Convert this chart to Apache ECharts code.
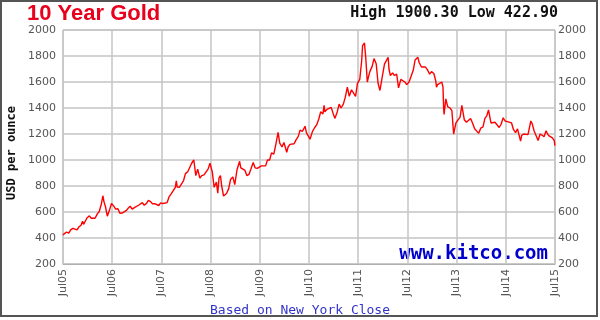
<!DOCTYPE html>
<html>
<head>
<meta charset="utf-8">
<script src="https://cdn.jsdelivr.net/npm/echarts@6/dist/echarts.min.js"></script>
<style>
  html, body { margin: 0; padding: 0; background: #fff; }
  #main { width: 600px; height: 320px; }
</style>
</head>
<body>
<div id="main"></div>
<script>
// 10 year gold (USD per ounce)
var dates = [
  '2005-07-20','2005-08-01','2005-08-15','2005-09-01','2005-09-15','2005-10-01','2005-10-15','2005-11-01','2005-11-15','2005-12-01','2005-12-12','2005-12-20',
  '2006-01-01','2006-01-15','2006-02-01','2006-02-15','2006-03-01','2006-03-15','2006-04-01','2006-04-15','2006-05-01','2006-05-12','2006-05-20','2006-06-01','2006-06-14','2006-06-20',
  '2006-07-01','2006-07-15','2006-08-01','2006-08-15','2006-09-01','2006-09-15','2006-10-01','2006-10-15','2006-11-01','2006-11-15','2006-12-01','2006-12-15',
  '2007-01-01','2007-01-15','2007-02-01','2007-02-15','2007-03-01','2007-03-15','2007-04-01','2007-04-15','2007-05-01','2007-05-15','2007-06-01','2007-06-15',
  '2007-07-01','2007-07-15','2007-08-01','2007-08-15','2007-09-01','2007-09-15','2007-10-01','2007-10-15','2007-11-01','2007-11-08','2007-11-15','2007-12-01','2007-12-15',
  '2008-01-01','2008-01-15','2008-02-01','2008-02-15','2008-03-01','2008-03-17','2008-04-01','2008-04-15','2008-05-01','2008-05-15','2008-06-01','2008-06-15',
  '2008-07-01','2008-07-15','2008-08-01','2008-08-15','2008-09-01','2008-09-11','2008-09-20','2008-10-01','2008-10-10','2008-10-24','2008-11-01','2008-11-15','2008-12-01','2008-12-15',
  '2009-01-01','2009-01-15','2009-02-01','2009-02-20','2009-03-01','2009-03-15','2009-04-01','2009-04-15','2009-05-01','2009-05-15','2009-06-01','2009-06-15',
  '2009-07-01','2009-07-15','2009-08-01','2009-08-15','2009-09-01','2009-09-15','2009-10-01','2009-10-15','2009-11-01','2009-11-15','2009-12-03','2009-12-15',
  '2010-01-01','2010-01-15','2010-02-05','2010-02-15','2010-03-01','2010-03-15','2010-04-01','2010-04-15','2010-05-01','2010-05-15','2010-06-01','2010-06-21',
  '2010-07-01','2010-07-15','2010-07-28','2010-08-15','2010-09-01','2010-09-15','2010-10-01','2010-10-15','2010-11-01','2010-11-09','2010-11-15','2010-12-01','2010-12-15',
  '2011-01-01','2011-01-15','2011-01-28','2011-02-15','2011-03-01','2011-03-15','2011-04-01','2011-04-15','2011-05-01','2011-05-15','2011-06-01','2011-06-15',
  '2011-07-01','2011-07-15','2011-08-01','2011-08-15','2011-08-22','2011-09-05','2011-09-15','2011-09-26','2011-10-05','2011-10-15','2011-11-01','2011-11-15','2011-12-01','2011-12-15','2011-12-29',
  '2012-01-15','2012-02-01','2012-02-28','2012-03-05','2012-03-15','2012-04-01','2012-04-15','2012-05-01','2012-05-15','2012-06-01','2012-06-15',
  '2012-07-01','2012-07-15','2012-08-01','2012-08-15','2012-09-01','2012-09-15','2012-10-05','2012-10-15','2012-11-01','2012-11-15','2012-12-01','2012-12-15',
  '2013-01-01','2013-01-15','2013-02-01','2013-02-15','2013-02-21','2013-03-01','2013-03-15','2013-04-01','2013-04-10','2013-04-15','2013-04-18','2013-05-01','2013-05-15','2013-06-01','2013-06-15','2013-06-28',
  '2013-07-15','2013-08-01','2013-08-15','2013-08-28','2013-09-15','2013-10-01','2013-10-15','2013-11-01','2013-11-15','2013-12-01','2013-12-15','2013-12-31',
  '2014-01-15','2014-02-01','2014-02-15','2014-03-01','2014-03-14','2014-04-01','2014-04-15','2014-05-01','2014-05-15','2014-06-01','2014-06-15',
  '2014-07-01','2014-07-15','2014-08-01','2014-08-15','2014-09-01','2014-09-15','2014-10-01','2014-10-15','2014-11-01','2014-11-07','2014-11-15','2014-12-01','2014-12-15',
  '2015-01-01','2015-01-22','2015-02-01','2015-02-15','2015-03-01','2015-03-17','2015-04-01','2015-04-15','2015-05-01','2015-05-15','2015-06-01','2015-06-15',
  '2015-07-01','2015-07-15','2015-07-20'
];
var prices = [
  424,432,446,438,462,474,468,462,486,498,528,505,
  518,556,570,552,566,552,586,604,662,725,680,638,568,578,
  618,665,645,622,625,590,592,588,610,628,645,622,
  634,628,652,666,672,652,666,690,680,664,664,654,
  650,670,665,660,672,716,740,762,790,840,792,790,802,
  842,895,910,905,975,1000,880,930,860,880,885,885,
  930,975,910,790,830,745,860,880,800,723,735,742,780,850,
  870,810,925,990,940,925,920,880,890,930,980,940,
  935,935,955,950,955,1000,1000,1055,1045,1115,1212,1130,
  1100,1135,1060,1100,1120,1120,1125,1155,1180,1230,1220,1260,
  1210,1200,1160,1220,1250,1270,1315,1370,1355,1420,1370,1390,1390,
  1405,1360,1320,1370,1430,1400,1430,1480,1560,1490,1540,1525,
  1490,1590,1620,1760,1880,1900,1780,1600,1640,1680,1720,1780,1740,1590,1535,
  1640,1740,1790,1700,1650,1670,1650,1660,1555,1620,1620,
  1600,1580,1600,1600,1690,1770,1790,1750,1715,1720,1715,1695,
  1660,1680,1665,1610,1560,1580,1590,1600,1560,1395,1350,1470,1410,1400,1380,1200,
  1285,1310,1330,1420,1310,1290,1275,1320,1285,1240,1230,1205,
  1245,1255,1320,1340,1385,1285,1300,1290,1295,1250,1275,
  1325,1300,1295,1305,1285,1235,1210,1240,1170,1145,1190,1200,1200,
  1195,1300,1280,1225,1210,1150,1200,1195,1180,1225,1190,1180,
  1170,1150,1110
];
var yearLabels = ['Jul05','Jul06','Jul07','Jul08','Jul09','Jul10','Jul11','Jul12','Jul13','Jul14','Jul15'];
var yMin = 200, yMax = 2000, yStep = 200;

var t0 = Date.parse('2005-07-20');
var yearMs = 365.25 * 24 * 3600 * 1000;
var points = dates.map(function (d, i) {
  return [(Date.parse(d) - t0) / yearMs, prices[i]];
});

var myChart = echarts.init(document.getElementById('main'));

var gridColor = '#c4c4c4';
var labelColor = '#555';
var plainNum = function (v) { return String(v); };

option = {
  animation: false,
  backgroundColor: '#fff',
  grid: {
    left: 63, right: 45, top: 30, bottom: 56,
    show: true, borderColor: '#b0b0b0', borderWidth: 1
  },
  xAxis: {
    type: 'value',
    min: 0, max: 10, interval: 1,
    axisLine: { show: true, lineStyle: { color: '#b0b0b0' } },
    axisTick: { show: false },
    splitLine: { show: true, lineStyle: { color: gridColor, width: 1.5 } },
    axisLabel: {
      rotate: 90,
      margin: 5,
      color: labelColor,
      fontFamily: 'DejaVu Sans',
      fontSize: 11,
      formatter: function (v) { return yearLabels[Math.round(v)]; }
    }
  },
  yAxis: [
    {
      type: 'value',
      min: yMin, max: yMax, interval: yStep,
      axisLine: { show: false },
      axisTick: { show: false },
      splitLine: { show: true, lineStyle: { color: gridColor, width: 1.5 } },
      axisLabel: { color: labelColor, fontFamily: 'DejaVu Sans', fontSize: 11, margin: 7, formatter: plainNum }
    },
    {
      type: 'value',
      position: 'right',
      min: yMin, max: yMax, interval: yStep,
      axisLine: { show: false },
      axisTick: { show: false },
      splitLine: { show: false },
      axisLabel: { color: labelColor, fontFamily: 'DejaVu Sans', fontSize: 11, margin: 3, formatter: plainNum }
    }
  ],
  series: [
    {
      name: 'Gold',
      type: 'line',
      data: points,
      showSymbol: false,
      lineStyle: { color: '#ff0000', width: 1.4 },
      z: 5
    }
  ],
  graphic: [
    {
      type: 'rect',
      shape: { x: 1, y: 1, width: 596, height: 315 },
      style: { fill: 'none', stroke: '#555', lineWidth: 2 },
      silent: true
    },
    {
      type: 'text', left: 27, top: 3,
      style: { text: '10 Year Gold', fill: '#e8001c', font: 'bold 22px "Liberation Sans", Arial, sans-serif' }
    },
    {
      type: 'text', right: 42, top: 6,
      style: { text: 'High 1900.30 Low 422.90', fill: '#111', font: 'bold 15px "DejaVu Sans Mono", monospace' }
    },
    {
      type: 'text', left: 6, top: 106, rotation: Math.PI / 2,
      style: { text: 'USD per ounce', fill: '#111', font: 'bold 12px "DejaVu Sans Mono", monospace' }
    },
    {
      type: 'text', right: 52, top: 245,
      style: { text: 'www.kitco.com', fill: '#0000cc', font: 'bold 19px "DejaVu Sans Mono", monospace' }
    },
    {
      type: 'text', left: 210, top: 304,
      style: { text: 'Based on New York Close', fill: '#3333cc', font: '13px "DejaVu Sans Mono", monospace' }
    }
  ]
};

myChart.setOption(option);
window.onresize = myChart.resize;
</script>
</body>
</html>
